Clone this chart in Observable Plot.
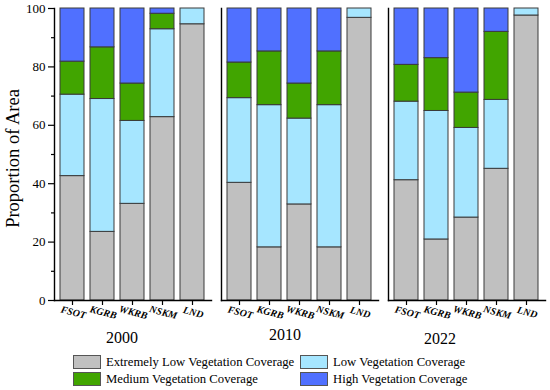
<!DOCTYPE html>
<html><head><meta charset="utf-8">
<script src="https://cdn.jsdelivr.net/npm/d3@7"></script>
<script src="https://cdn.jsdelivr.net/npm/@observablehq/plot@0.6"></script>
<style>
body{margin:0;background:#fff;font-family:"Liberation Serif","Times New Roman",serif;}
#wrap{position:relative;width:550px;height:390px;}
.leg{position:absolute;display:flex;align-items:center;font-size:12.7px;line-height:14px;color:#000;white-space:nowrap}
.sw{width:28px;height:14px;border:1px solid #555;box-sizing:border-box;margin-right:5px}
</style></head><body><div id="wrap"><div id="chart"></div></div>
<script>
const years = ["2000", "2010", "2022"];
const sites = ["FSOT", "KGRB", "WKRB", "NSKM", "LND"];
const classes = ["Extremely Low Vegetation Coverage", "Low Vegetation Coverage", "Medium Vegetation Coverage", "High Vegetation Coverage"];
const colors = ["#c0c0c0", "#a6e6ff", "#41a500", "#5070ff"];
// rows: years; columns: sites
const extremelyLow = [[42.6, 23.5, 33.1, 62.8, 94.6], [40.3, 18.2, 32.9, 18.2, 96.8], [41.2, 20.9, 28.4, 45.1, 97.6]];
const low          = [[27.9, 45.5, 28.4, 30.1, 5.4], [29.0, 48.7, 29.4, 48.7, 3.2], [26.9, 44.0, 30.7, 23.6, 2.4]];
const medium       = [[11.3, 17.7, 12.8, 5.3, 0], [12.2, 18.4, 12.0, 18.4, 0], [12.6, 18.1, 12.1, 23.3, 0]];
const high         = [[18.2, 13.3, 25.7, 1.8, 0], [18.5, 14.7, 25.7, 14.7, 0], [19.3, 17.0, 28.8, 8.0, 0]];
const yTicks = [0, 20, 40, 60, 80, 100];
const yMinor = [10, 30, 50, 70, 90];
const series = [extremelyLow, low, medium, high];

const rows = [];
years.forEach((yr, i) => sites.forEach((s, j) => classes.forEach((c, k) => {
  const v = series[k][i][j];
  if (v > 0) rows.push({year: yr, site: s, cls: c, value: v});
})));

const yearDx = [-11, -15, -27];
const yearDy = [42, 39, 43];

const chart = Plot.plot({
  width: 550, height: 350,
  marginLeft: 54, marginRight: 5, marginTop: 8, marginBottom: 50,
  style: {fontFamily: "'Liberation Serif','Times New Roman',serif", fontSize: "13px", color: "#000", background: "#fff"},
  fx: {domain: years, paddingInner: 0.06, paddingOuter: 0, axis: null},
  x: {domain: sites, paddingInner: 0.19, paddingOuter: 0.13},
  y: {domain: [0, 100]},
  color: {domain: classes, range: colors},
  marks: [
    Plot.barY(rows, Plot.stackY({fx: "year", x: "site", y: "value", fill: "cls", order: classes, stroke: "#3a3a3a", strokeWidth: 1})),
    Plot.frame({anchor: "left", stroke: "#000", strokeWidth: 1.4}),
    Plot.frame({anchor: "bottom", stroke: "#000", strokeWidth: 1.4}),
    Plot.axisX({tickSize: 5, tickFormat: () => "", label: null, strokeWidth: 1.2}),
    Plot.text(sites, {x: d => d, text: d => d, frameAnchor: "bottom", dy: 15, rotate: 15, fontWeight: "bold", fontStyle: "italic", fontSize: 10}),
    Plot.axisY({ticks: yTicks, tickSize: 6, tickPadding: 3, label: null, fontSize: 13, strokeWidth: 1.2}),
    Plot.axisY({ticks: yMinor, tickSize: 3, tickFormat: () => "", label: null, strokeWidth: 1.2}),
    Plot.text([years[0]], {fx: d => d, text: () => "Proportion of Area", frameAnchor: "left", textAnchor: "middle", rotate: -90, dx: -41, dy: 4, fontSize: 18.5}),
    ...years.map((yr, i) => Plot.text([yr], {fx: d => d, text: d => d, frameAnchor: "bottom", dx: yearDx[i], dy: yearDy[i], fontSize: 16}))
  ]
});
document.getElementById("chart").appendChild(chart);

const legendPos = [[73, 355], [300, 355], [73, 372], [300, 372]];
const wrap = document.getElementById("wrap");
classes.forEach((c, k) => {
  const d = document.createElement("div");
  d.className = "leg";
  d.style.left = legendPos[k][0] + "px";
  d.style.top = legendPos[k][1] + "px";
  d.innerHTML = `<span class="sw" style="background:${colors[k]}"></span><span>${c}</span>`;
  wrap.appendChild(d);
});
</script></body></html>
